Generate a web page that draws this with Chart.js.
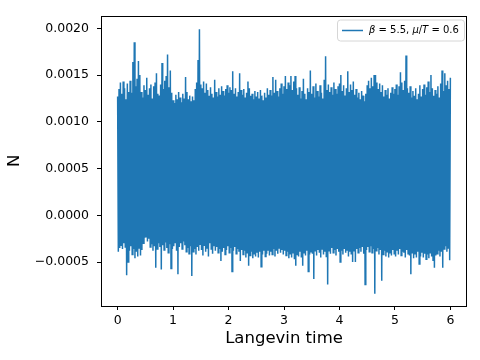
<!DOCTYPE html>
<html>
<head>
<meta charset="utf-8">
<script src="https://cdn.jsdelivr.net/npm/chart.js@4.4.1/dist/chart.umd.min.js"></script>
<style>
  html, body { margin: 0; padding: 0; background: #fff; }
</style>
</head>
<body>
<canvas id="nChart" width="480" height="360"></canvas>
<script>
// Langevin time step between stored samples (upper value at t, lower value at t + dt/2)
const dt = 0.025;
const seriesLabel = 'β = 5.5, μ/T = 0.6';

// upper excursions of N, in units of 1e-4 (t = 0 .. 6)
const hiE4 = [
  12.7, 13.5, 14.2, 13.0, 14.3, 13.6, 12.4, 14.1, 13.2, 14.4,
  13.1, 16.4, 18.5, 13.8, 14.6, 16.5, 15.0, 13.2, 12.6, 13.9,
  13.4, 14.7, 12.9, 13.6, 14.0, 12.5, 13.8, 14.2, 15.2, 13.0,
  12.8, 14.0, 16.3, 13.5, 14.4, 14.9, 17.2, 13.7, 15.5, 13.1,
  12.3, 12.0, 12.9, 12.4, 13.2, 12.6, 12.1, 13.0, 12.5, 14.8,
  13.2, 12.4, 12.8, 12.2, 12.7, 12.3, 13.5, 14.2, 16.6, 19.9,
  14.0, 13.6, 14.3, 13.1, 14.1, 13.4, 12.8, 13.7, 13.0, 12.6,
  14.5, 13.2, 12.7, 13.6, 12.9, 13.8, 13.3, 12.8, 13.5, 13.9,
  13.1, 13.7, 13.4, 15.4, 13.0, 13.6, 12.7, 13.2, 15.2, 13.4,
  12.9, 13.5, 12.6, 13.1, 14.3, 13.6, 12.8, 13.0, 12.4, 13.3,
  12.7, 13.2, 12.5, 13.4, 12.8, 12.3, 13.1, 12.6, 13.6, 12.9,
  13.4, 12.8, 14.8, 13.1, 14.5, 13.3, 12.7, 13.6, 14.1, 13.0,
  13.8, 14.9, 13.5, 14.2, 13.9, 14.9, 13.4, 14.3, 14.9, 13.6,
  12.9, 13.7, 12.5, 13.3, 14.6, 13.0, 12.4, 13.6, 13.2, 15.5,
  13.0, 13.8, 12.6, 14.1, 13.3, 12.7, 13.9, 13.1, 12.5, 14.5,
  17.0, 13.4, 14.0, 13.2, 13.7, 12.9, 14.2, 13.5, 13.0, 13.8,
  14.1, 15.0, 13.3, 13.9, 12.8, 13.6, 15.4, 13.2, 14.0, 13.4,
  14.3, 12.9, 13.5, 12.6, 13.1, 12.4, 13.3, 12.8, 12.2, 13.0,
  13.9, 14.4, 13.6, 14.7, 13.8, 15.0, 15.0, 14.2, 13.5, 14.1,
  13.2, 13.9, 12.7, 13.4, 12.9, 13.6, 12.5, 13.1, 13.7, 13.0,
  13.5, 14.0, 12.9, 13.8, 15.3, 14.2, 13.4, 14.4, 17.1, 13.6,
  13.1, 13.8, 12.6, 13.3, 12.8, 13.6, 12.4, 13.0, 13.9, 12.7,
  13.5, 14.0, 12.9, 13.7, 14.3, 13.2, 15.0, 13.6, 12.8, 13.4,
  13.0, 13.8, 12.6, 14.1, 15.5, 13.3, 15.2, 13.9, 14.4, 13.5,
  14.7
];

// lower excursions of N, in units of 1e-4
const loE4 = [
  -3.9, -3.5, -3.2, -3.6, -3.0, -3.4, -6.4, -5.0, -3.8, -3.3,
  -4.2, -3.6, -4.6, -3.9, -4.4, -3.5, -4.3, -3.7, -3.0, -2.4,
  -2.3, -2.8, -2.5, -3.4, -3.1, -3.8, -3.3, -5.6, -3.6, -3.0,
  -3.4, -5.8, -3.2, -3.7, -2.9, -3.5, -4.0, -3.1, -5.7, -3.6,
  -3.3, -2.9, -3.8, -6.3, -3.4, -3.0, -3.6, -2.8, -3.2, -3.9,
  -3.5, -4.1, -3.3, -6.5, -3.9, -3.6, -4.2, -3.4, -3.8, -3.1,
  -3.7, -4.3, -3.2, -3.9, -3.5, -4.4, -3.0, -3.6, -4.1, -3.3,
  -3.8, -3.4, -4.0, -3.6, -4.9, -3.9, -3.5, -4.2, -3.7, -3.3,
  -4.0, -3.5, -6.0, -3.8, -3.4, -4.1, -3.6, -3.9, -4.9, -3.7,
  -4.2, -3.8, -4.5, -4.0, -5.4, -4.3, -3.9, -4.6, -4.1, -4.4,
  -4.0, -4.5, -3.9, -5.5, -4.2, -3.8, -4.4, -4.1, -3.7, -4.3,
  -3.9, -4.2, -3.6, -4.4, -3.8, -4.1, -3.5, -4.0, -3.7, -4.2,
  -3.8, -4.3, -3.9, -4.6, -4.1, -4.5, -4.0, -4.7, -5.4, -4.2,
  -4.4, -3.9, -4.5, -5.4, -4.0, -4.3, -3.8, -6.0, -4.2, -3.9,
  -4.1, -6.8, -3.8, -4.3, -3.7, -4.0, -4.5, -3.6, -4.2, -3.9,
  -4.4, -7.4, -3.8, -4.1, -3.5, -4.0, -3.7, -4.3, -3.6, -3.9,
  -5.0, -3.8, -4.2, -3.6, -4.0, -3.7, -4.4, -3.9, -4.1, -5.0,
  -3.8, -5.0, -3.6, -4.0, -3.5, -3.9, -3.4, -4.1, -7.4, -3.7,
  -3.4, -3.9, -3.3, -4.0, -3.6, -8.4, -3.8, -3.5, -4.2, -3.7,
  -7.0, -4.2, -3.8, -4.4, -3.9, -4.5, -4.0, -4.3, -3.7, -4.1,
  -4.4, -3.8, -4.2, -3.6, -4.3, -3.9, -4.0, -4.5, -3.7, -4.1,
  -4.3, -6.3, -4.0, -4.6, -4.1, -4.5, -3.9, -5.2, -4.4, -4.0,
  -4.5, -4.1, -4.7, -4.2, -4.6, -4.0, -4.4, -4.8, -5.6, -4.3,
  -4.1, -3.8, -4.4, -3.9, -5.6, -3.6, -3.3, -3.9, -3.5, -4.8
];

const xTicks = [0, 1, 2, 3, 4, 5, 6];
const yTicks = [-0.0005, 0, 0.0005, 0.0010, 0.0015, 0.0020];

// build the trace: upper, lower, upper, ...
const trace = [];
for (let i = 0; i < hiE4.length; i++) {
  trace.push({ x: i * dt, y: hiE4[i] * 1e-4 });
  if (i < loE4.length) trace.push({ x: i * dt + dt / 2, y: loE4[i] * 1e-4 });
}

const fontFamily = '"DejaVu Sans", Verdana, sans-serif';

function fmtY(v) {
  if (Math.abs(v) < 1e-12) return '0.0000';
  return (v < 0 ? '\u2212' : '') + Math.abs(v).toFixed(4);
}

// box around the axes + matplotlib style legend
const framePlugin = {
  id: 'frame',
  afterDatasetsDraw(chart) {
    const { ctx, chartArea: a } = chart;
    ctx.save();
    ctx.strokeStyle = '#000';
    ctx.lineWidth = 1;
    ctx.strokeRect(Math.round(a.left) + 0.5, Math.round(a.top) + 0.5,
      Math.round(a.right - a.left) - 1, Math.round(a.bottom - a.top) - 1);
    ctx.restore();
  },
  afterDraw(chart) {
    const { ctx, chartArea: a } = chart;
    const ds = chart.data.datasets[0];
    const w = 127, h = 21;
    const x0 = a.right - 130, y0 = a.top + 4;
    ctx.save();
    ctx.beginPath();
    ctx.roundRect(x0 + 0.5, y0 + 0.5, w, h, 3);
    ctx.fillStyle = 'rgba(255,255,255,0.8)';
    ctx.fill();
    ctx.strokeStyle = '#d6d6d6';
    ctx.lineWidth = 1;
    ctx.stroke();
    ctx.beginPath();
    ctx.moveTo(x0 + 5, y0 + 11);
    ctx.lineTo(x0 + 26, y0 + 11);
    ctx.strokeStyle = ds.borderColor;
    ctx.lineWidth = 1.5;
    ctx.stroke();
    // italic for the math symbols
    ctx.fillStyle = '#000';
    ctx.textBaseline = 'middle';
    let x = x0 + 32;
    for (const ch of ds.label) {
      const it = /[βμT]/.test(ch);
      ctx.font = (it ? 'italic ' : '') + '10px ' + fontFamily;
      ctx.fillText(ch, x, y0 + 11);
      x += ctx.measureText(ch).width;
    }
    ctx.restore();
  }
};

new Chart(document.getElementById('nChart'), {
  type: 'line',
  data: {
    datasets: [{
      label: seriesLabel,
      data: trace,
      borderColor: '#1f77b4',
      backgroundColor: '#1f77b4',
      borderWidth: 1.5,
      pointRadius: 0,
      tension: 0,
      fill: false
    }]
  },
  options: {
    responsive: false,
    animation: false,
    parsing: false,
    layout: { padding: { top: 11, right: 13, left: 0, bottom: 0 } },
    plugins: {
      legend: { display: false },
      tooltip: { enabled: false }
    },
    scales: {
      x: {
        type: 'linear',
        min: -0.3,
        max: 6.3,
        afterBuildTicks: (s) => { s.ticks = xTicks.map(v => ({ value: v })); },
        afterFit: (s) => { s.height = 54; },
        grid: { drawOnChartArea: false, drawTicks: true, tickLength: 4, color: '#000' },
        border: { display: false },
        ticks: {
          color: '#000',
          padding: 3,
          maxRotation: 0,
          font: { family: fontFamily, size: 12.5 },
          callback: (v) => String(v)
        },
        title: {
          display: true,
          text: 'Langevin time',
          color: '#000',
          font: { family: fontFamily, size: 16.5 },
          padding: { top: 0, bottom: 11 }
        }
      },
      y: {
        type: 'linear',
        min: -0.00097,
        max: 0.002137,
        afterBuildTicks: (s) => { s.ticks = yTicks.map(v => ({ value: v })); },
        afterFit: (s) => { s.width = 101; },
        grid: { drawOnChartArea: false, drawTicks: true, tickLength: 4, color: '#000' },
        border: { display: false },
        ticks: {
          color: '#000',
          padding: 8,
          font: { family: fontFamily, size: 12.5 },
          callback: (v) => fmtY(v)
        },
        title: {
          display: true,
          text: 'N',
          color: '#000',
          font: { family: fontFamily, size: 16.5 },
          padding: { top: 5, bottom: 0 }
        }
      }
    }
  },
  plugins: [framePlugin]
});
</script>
</body>
</html>
